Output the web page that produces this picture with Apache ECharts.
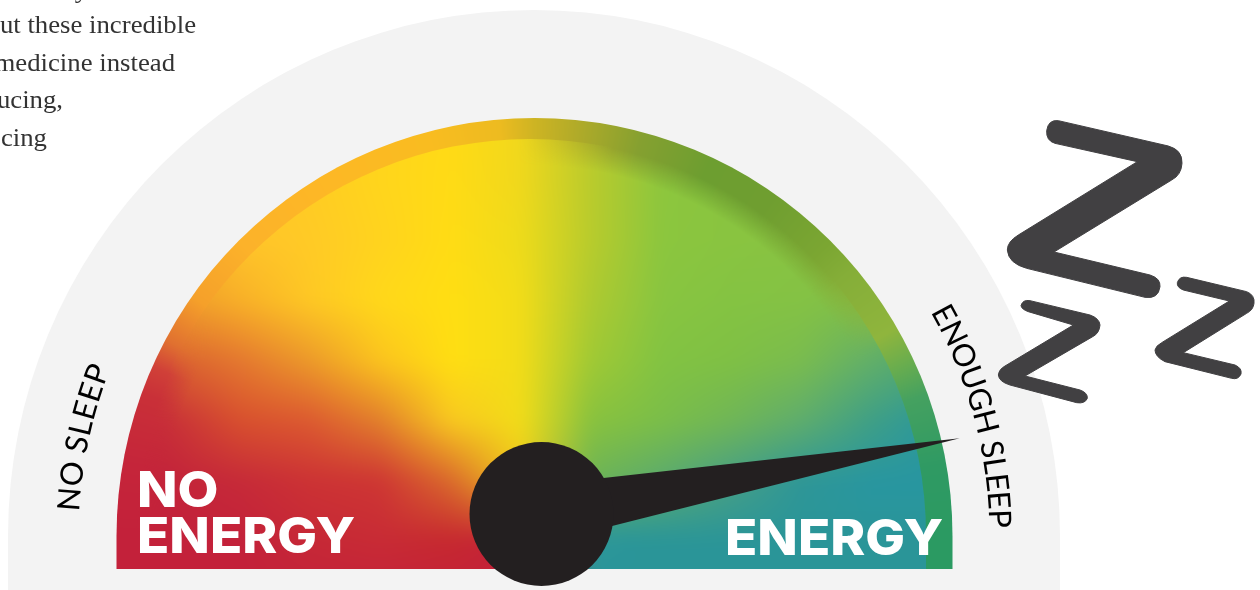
<!DOCTYPE html>
<html>
<head>
<meta charset="utf-8">
<style>html,body{margin:0;padding:0;background:#fff;overflow:hidden}#chart{width:1260px;height:590px}</style>
<script src="https://cdn.jsdelivr.net/npm/echarts@6/dist/echarts.min.js"></script>
</head>
<body>
<div id="chart"></div>
<script>
// Gauge reading, on a 0 (no sleep) to 100 (enough sleep) scale
const gaugeMin = 0;
const gaugeMax = 100;
const sleepReading = 94.3;

// Captions
const leftArcLabel = 'NO SLEEP';
const rightArcLabel = 'ENOUGH SLEEP';
const lowLabelLines = ['NO', 'ENERGY'];
const highLabel = 'ENERGY';
const bodyTextLines = ['y', 'ut these incredible', 'medicine instead', 'ucing,', 'cing'];

// Colour field across the dial: one row per fieldY, one column per fieldX
const fieldX = [100, 170, 240, 310, 380, 450, 520, 590, 660, 730, 800, 870, 940, 1010];
const fieldY = [120, 180, 240, 300, 360, 420, 480, 540, 600];
const fieldRows = [
  ['FFC22A','FFC22A','FFC726','FFCC22','FFD51C','FFDA16','F2D81C','BCCB2C','8EC53C','8AC43F','8CC240','8EBF40','8EBF40','8EBF40'],
  ['FFC128','FFC128','FFC726','FFCC22','FFD51C','FFDB15','F0D81C','BACB2C','8DC63D','89C43F','8BC341','8DC041','8DC041','8DC041'],
  ['F8A828','F8A828','FFC42A','FFCA26','FFD31E','FFDC14','EEDB1A','B8CB2C','8BC63E','89C440','88C342','8BC042','8BC042','8BC042'],
  ['E4702E','EE9A2C','F8B028','FEC824','FFD81A','FFDE12','F2DC18','AECA30','88C540','84C342','84C244','80BE48','80BE48','80BE48'],
  ['C83038','D9602F','E4782F','EC9A2A','FBC41E','FFDE12','F2DC18','A0C934','82C342','7FC044','7ABC4E','62AF68','4AA574','4AA574'],
  ['C42238','C83038','D8502E','DC5A30','E2802C','F8C820','F2DC18','88C23E','7BBE48','70B656','5FAD6C','3F9F85','2896A0','2896A0'],
  ['C3213A','C3233A','C62A38','CC3234','CE3633','DA6A2C','F0C81C','6DB455','5CAB6C','479F85','2E9697','2896A0','2896A0','2896A0'],
  ['C3213A','C3213A','C3213A','C62836','C82B35','C6282F','C3213A','2B969A','2A9598','2A9598','2A9598','2A9598','2A9598','2A9598'],
  ['C3213A','C3213A','C3213A','C3213A','C3213A','C3213A','C3213A','2A9598','2A9598','2A9598','2A9598','2A9598','2A9598','2A9598']
];

// Outer rim of the dial: colour by angle around the dial centre
const rimAngles = [180, 170, 160, 156, 152, 145, 135, 120, 105, 95, 90, 85, 75, 65, 55, 45, 40, 30, 25, 20, 10, 0];
const rimColors = ['C3213A','C5253A','C93038','D04038','E07030','F5A02A','FCB22A','FDB825','F9BC20','EDBB20','CDB423','B5AC28','85A030','6D9E30','6F9E30','7BA632','85AE38','8FB53D','69AD4E','45A160','2F9A63','2B9A62'];

const rgb = h => [0, 2, 4].map(i => parseInt(h.substr(i, 2), 16));
const fieldRgb = fieldRows.map(r => r.map(rgb));
const rimRgb = rimColors.map(rgb);

function makeCanvas(paint, softness) {
  const c = document.createElement('canvas');
  c.width = 1260; c.height = 590;
  const ctx = c.getContext('2d');
  const img = ctx.createImageData(1260, 590);
  for (let y = 0; y < 590; y++) {
    for (let x = 0; x < 1260; x++) {
      const col = paint(x, y), k = (y * 1260 + x) * 4;
      img.data[k] = col[0]; img.data[k + 1] = col[1]; img.data[k + 2] = col[2]; img.data[k + 3] = 255;
    }
  }
  ctx.putImageData(img, 0, 0);
  if (softness) {
    // Take the corners off the colour table's grid
    const copy = document.createElement('canvas');
    copy.width = 1260; copy.height = 590;
    copy.getContext('2d').drawImage(c, 0, 0);
    ctx.filter = 'blur(' + softness + 'px)';
    ctx.drawImage(copy, 0, 0);
    ctx.filter = 'none';
  }
  return c;
}

function bracket(list, v) {
  let i = 0;
  while (i < list.length - 2 && v > list[i + 1]) i++;
  const t = Math.max(0, Math.min(1, (v - list[i]) / (list[i + 1] - list[i])));
  return [i, t];
}

const fieldCanvas = makeCanvas((x, y) => {
  const [i, tx] = bracket(fieldX, x);
  const [j, ty] = bracket(fieldY, y);
  const a = fieldRgb[j][i], b = fieldRgb[j][i + 1], c = fieldRgb[j + 1][i], d = fieldRgb[j + 1][i + 1];
  return [0, 1, 2].map(n => (a[n] * (1 - tx) + b[n] * tx) * (1 - ty) + (c[n] * (1 - tx) + d[n] * tx) * ty);
}, 9);

// On the upper right and the lower left the face melts into the rim instead of meeting it at an edge
(function fadeFaceEdge() {
  const ctx = fieldCanvas.getContext('2d');
  const img = ctx.getImageData(0, 0, 1260, 590);
  const clamp = v => Math.max(0, Math.min(1, v));
  for (let y = 100; y < 536; y++) {
    for (let x = 120; x < 960; x++) {
      const dx = x - 530, dy = 535 - y;
      const d = Math.sqrt(dx * dx + dy * dy);
      if (d < 370) continue;
      const deg = Math.atan2(dy, dx) * 180 / Math.PI;
      const reach = Math.max(clamp((deg - 28) / 12) * clamp((92 - deg) / 14), clamp((deg - 146) / 10));
      const inner = clamp((396 - d) / 26);
      img.data[(y * 1260 + x) * 4 + 3] = 255 * (1 - reach + reach * inner);
    }
  }
  ctx.putImageData(img, 0, 0);
})();

const rimCanvas = makeCanvas((x, y) => {
  const deg = y >= 536 ? (x < 534.5 ? 180 : 0) : Math.atan2(536 - y, x - 534.5) * 180 / Math.PI;
  let i = 0;
  while (i < rimAngles.length - 2 && deg < rimAngles[i + 1]) i++;
  const t = (rimAngles[i] - deg) / (rimAngles[i] - rimAngles[i + 1]);
  return [0, 1, 2].map(n => rimRgb[i][n] * (1 - t) + rimRgb[i + 1][n] * t);
}, 0);

// Letters set one by one along an arc around the dial centre
function arcLetters(text, radius, startDeg, spanDeg, font) {
  const m = document.createElement('canvas').getContext('2d');
  m.font = font;
  const widths = [...text].map(ch => m.measureText(ch).width);
  const total = widths.reduce((s, w) => s + w, 0);
  let run = 0;
  return [...text].map((ch, i) => {
    const deg = startDeg - spanDeg * (run + widths[i] / 2) / total;
    run += widths[i];
    const rad = deg * Math.PI / 180;
    return {
      type: 'text',
      x: 534.5 + radius * Math.cos(rad),
      y: 536 - radius * Math.sin(rad),
      rotation: rad - Math.PI / 2,
      style: { text: ch, font: font, fill: '#000', align: 'center', verticalAlign: 'middle' }
    };
  });
}

// Outlines that the dial and the sleep marks are filled from
const shapePaths = {
  dialBack: 'M8 590L8 536A526 526 0 0 1 1060 536L1060 590Z',
  dialRim: 'M116.5 569L116.5 536A418 418 0 0 1 952.5 536L952.5 569Z',
  dialFace: 'M134 569L134 535A396 396 0 0 1 926 535L926 569Z',
  sleepBig: 'M205 62L535 138Q578 150 576 190Q574 225 545 240L192 456L480 525Q512 535 510 560Q505 598 465 592L110 505Q55 490 52 450Q52 425 85 405L442 185L195 130Q168 122 170 92Q175 58 205 62Z',
  sleepRight: 'M590 532L770 575Q795 585 792 610Q790 630 770 640L580 758L735 795Q757 805 753 822Q745 840 725 835L525 785Q495 770 495 750Q497 738 515 728L718 603L580 570Q560 562 562 548Q568 528 590 532Z',
  sleepLeft: 'M120 602L300 645Q328 655 330 675Q328 700 308 710L105 828L270 870Q293 878 292 895Q285 912 260 908L60 855Q27 845 25 825Q27 808 45 798L250 675L115 635Q95 628 93 617Q98 598 120 602Z'
};
Object.keys(shapePaths).forEach(name => {
  echarts.graphic.registerShape(name, echarts.graphic.extendPath(shapePaths[name], {}));
});

const bodyFont = '25px "Liberation Serif"';
const bodyFill = '#333';
const heavyFont = '800 50px Inter';
const archFont = '31px Lato';
// Right end and text-box top of each body line
const bodyEnds = [[88, -21], [196, 14], [175, 52], [63, 89], [47, 127]];
const sleepMark = name => ({
  type: name, x: 990, y: 100, scaleX: 1 / 3, scaleY: 1 / 3,
  style: { fill: '#414042', stroke: '#414042', lineWidth: 3, lineJoin: 'round' }
});
const heavyText = (text, x, top) => ({
  type: 'text', x: x, y: top, scaleX: 1.06,
  style: { text: text, font: heavyFont, fill: '#fff', align: 'left', verticalAlign: 'top' }
});

const graphicElements = [
  { type: 'dialBack', style: { fill: '#f3f3f3' } },
  { type: 'dialRim', style: { fill: { image: rimCanvas, repeat: 'no-repeat' } } },
  { type: 'dialFace', style: { fill: { image: fieldCanvas, repeat: 'no-repeat' } } },
  ...bodyTextLines.map((line, i) => ({
    type: 'text', x: bodyEnds[i][0], y: bodyEnds[i][1], scaleX: 1.07,
    style: { text: line, font: bodyFont, fill: bodyFill, align: 'right', verticalAlign: 'top' }
  })),
  ...arcLetters(leftArcLabel, 466, 177, 18.5, archFont),
  ...arcLetters(rightArcLabel, 465, 29.5, 28.5, archFont),
  heavyText(lowLabelLines[0], 137, 467),
  heavyText(lowLabelLines[1], 137, 513),
  heavyText(highLabel, 725, 515),
  sleepMark('sleepBig'), sleepMark('sleepRight'), sleepMark('sleepLeft')
];

const chart = echarts.init(document.getElementById('chart'), null, { renderer: 'canvas', width: 1260, height: 590 });
chart.setOption({
  animation: false,
  backgroundColor: '#ffffff',
  graphic: { elements: graphicElements },
  series: [{
    type: 'gauge',
    center: [541.5, 514],
    radius: 425,
    startAngle: 180,
    endAngle: 0,
    min: gaugeMin,
    max: gaugeMax,
    z: 5,
    axisLine: { show: false },
    splitLine: { show: false },
    axisTick: { show: false },
    axisLabel: { show: false },
    pointer: { show: true, icon: 'triangle', width: 58, length: 425, itemStyle: { color: '#231f20' } },
    anchor: { show: true, showAbove: true, icon: 'circle', size: 144, itemStyle: { color: '#231f20' } },
    title: { show: false },
    detail: { show: false },
    data: [{ value: sleepReading }]
  }]
});
</script>
</body>
</html>
